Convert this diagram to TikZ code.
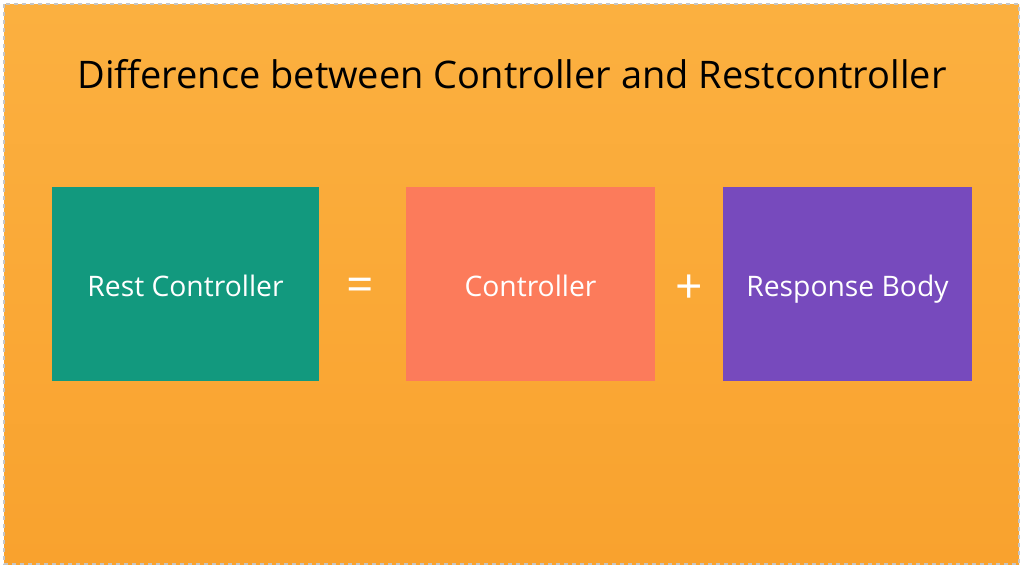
\documentclass[tikz,border=0pt]{standalone}
\usepackage{fontspec}
\setmainfont{Open Sans}
\usetikzlibrary{positioning}
\definecolor{bgtop}{HTML}{FBB040}
\definecolor{bgbot}{HTML}{F9A22E}
\definecolor{restgreen}{HTML}{12997E}
\definecolor{ctrlred}{HTML}{FC7B5B}
\definecolor{bodypurple}{HTML}{774ABD}
\tikzset{
  blockbox/.style={minimum width=#1, minimum height=145.5pt, inner sep=0pt,
    text height=22pt, text depth=4pt,
    text=white, font=\fontsize{21.2}{25}\selectfont},
  opsign/.style={text=white, font=\fontsize{36}{40}\selectfont}
}
\begin{document}
\begin{tikzpicture}[x=0.75pt,y=-0.75pt]
\useasboundingbox (0,0) rectangle (1024,569);
\shade[top color=bgtop,bottom color=bgbot] (4,4) rectangle (1019,564);
\draw[gray!45,dashed,line width=1pt] (4,4) rectangle (1019,564);
\node (title) at (512,74) {\fontsize{28.5}{32}\selectfont Difference between Controller and Restcontroller};
\node[blockbox=200pt,fill=restgreen] (rest) at (185.5,284) {Rest Controller};
\node[blockbox=187pt,fill=ctrlred] (ctrl) at (530.5,284) {Controller};
\node[blockbox=187pt,fill=bodypurple] (body) at (847.5,284) {Response Body};
\node[opsign] (eq) at (360,290) {=};
\node[opsign] (plus) at (689,289) {+};
\end{tikzpicture}
\end{document}
